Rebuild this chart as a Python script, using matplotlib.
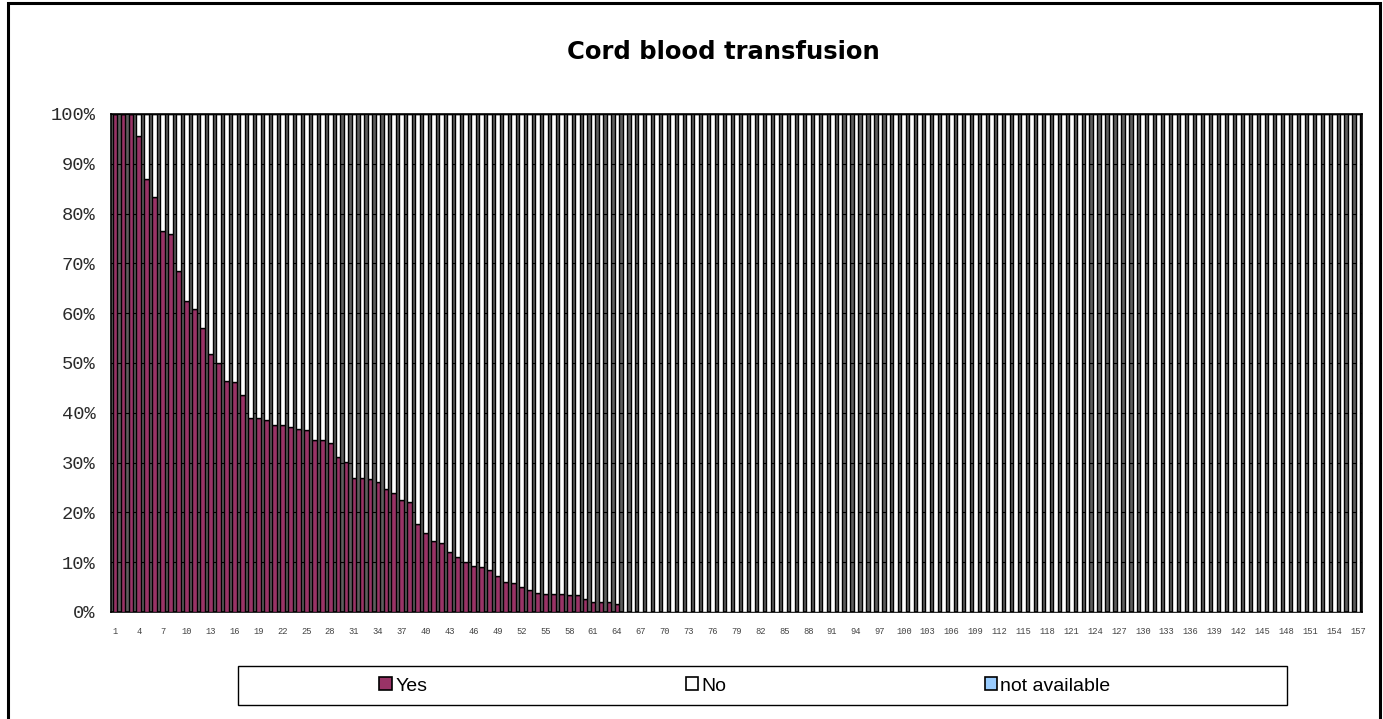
import matplotlib
matplotlib.use("Agg")
import matplotlib.pyplot as plt
from matplotlib.patches import Patch, Rectangle
from matplotlib.ticker import FuncFormatter, MultipleLocator

# ---- data (percent of cases per centre) ----
categories = [str(i) for i in range(1, 158)]
yes_pct = [100, 100, 100, 95.5, 87.0, 83.4, 76.5, 76.0, 68.5, 62.4,
           60.8, 57.1, 51.8, 50.0, 46.4, 46.1, 43.5, 39.0, 38.9, 38.5,
           37.5, 37.5, 37.2, 36.8, 36.5, 34.6, 34.6, 33.9, 31.2, 30.1,
           26.9, 26.9, 26.7, 26.1, 24.7, 23.9, 22.5, 22.0, 17.7, 15.8,
           14.3, 13.9, 12.1, 11.0, 9.96, 9.2, 9.1, 8.4, 7.3, 6.05,
           5.9, 5.0, 4.4, 3.9, 3.7, 3.7, 3.6, 3.5, 3.4, 2.6,
           2.1, 2.0, 2.0, 1.55] + [0.0] * 93
na_pct = [0.0] * 157
no_pct = [100 - y - n for y, n in zip(yes_pct, na_pct)]
series_names = ["Yes", "No", "not available"]
series_colors = ["#993366", "#FFFFFF", "#99CCFF"]
title = "Cord blood transfusion"

W, H = 1383, 719
fig = plt.figure(figsize=(W / 100, H / 100), dpi=100)
fig.patch.set_facecolor("white")

L, R, T, B = 111, 1362, 114, 612
ax = fig.add_axes([L / W, 1 - B / H, (R - L) / W, (B - T) / H])
ax.set_facecolor("#5e5e5e")

x = list(range(len(categories)))
bw = 0.6
lw = 1.0
ax.bar(x, yes_pct, width=bw, color=series_colors[0], edgecolor="black",
       linewidth=lw, zorder=3, label=series_names[0])
ax.bar(x, no_pct, width=bw, bottom=yes_pct, color=series_colors[1],
       edgecolor="black", linewidth=lw, zorder=3, label=series_names[1])
bottom2 = [a + b for a, b in zip(yes_pct, no_pct)]
ax.bar(x, na_pct, width=bw, bottom=bottom2, color=series_colors[2],
       edgecolor="black", linewidth=lw, zorder=3, label=series_names[2])

ax.set_xlim(-0.5, len(categories) - 0.5)
ax.set_ylim(0, 100)
ax.yaxis.set_major_locator(MultipleLocator(10))
ax.yaxis.set_major_formatter(FuncFormatter(lambda v, p: f"{v:.0f}%"))
ax.grid(axis="y", color="black", linewidth=0.8, zorder=1)
ax.set_axisbelow(True)

ax.set_xticks(x[::3])
ax.set_xticklabels(categories[::3])

for s in ax.spines.values():
    s.set_color("black")
    s.set_linewidth(1.2)

ax.tick_params(axis="y", length=0, pad=11, labelsize=13.5, labelcolor="#2a2a2a")
ax.tick_params(axis="x", length=0, pad=11, labelsize=6.3, labelcolor="#444444")
for lab in ax.get_yticklabels() + ax.get_xticklabels():
    lab.set_fontfamily("Liberation Mono")

fig.text(723 / W, 1 - 52 / H, title, ha="center", va="center",
         fontsize=17.5, fontweight="bold", family="DejaVu Sans")

# legend box
fig.patches.append(Rectangle((238 / W, 1 - 705 / H), (1287 - 238) / W, 39 / H,
                             transform=fig.transFigure, facecolor="white",
                             edgecolor="black", linewidth=1.0, zorder=0))
handles = [Patch(facecolor=c, edgecolor="black", linewidth=1.2)
           for c in series_colors]
fig.legend(handles, series_names, ncol=3, loc="center",
           bbox_to_anchor=(745 / W, 1 - 686 / H), frameon=False,
           prop={"family": "Liberation Sans", "size": 14},
           handlelength=0.65, handleheight=0.65, handletextpad=0.15,
           columnspacing=13.3)

# outer chart frame
fig.patches.append(Rectangle((7.5 / W, -0.02), (1379.5 - 7.5) / W, 1.02 - 2.5 / H,
                             transform=fig.transFigure, fill=False,
                             edgecolor="black", linewidth=2.2, zorder=5))

fig.savefig("out.png", dpi=100)
